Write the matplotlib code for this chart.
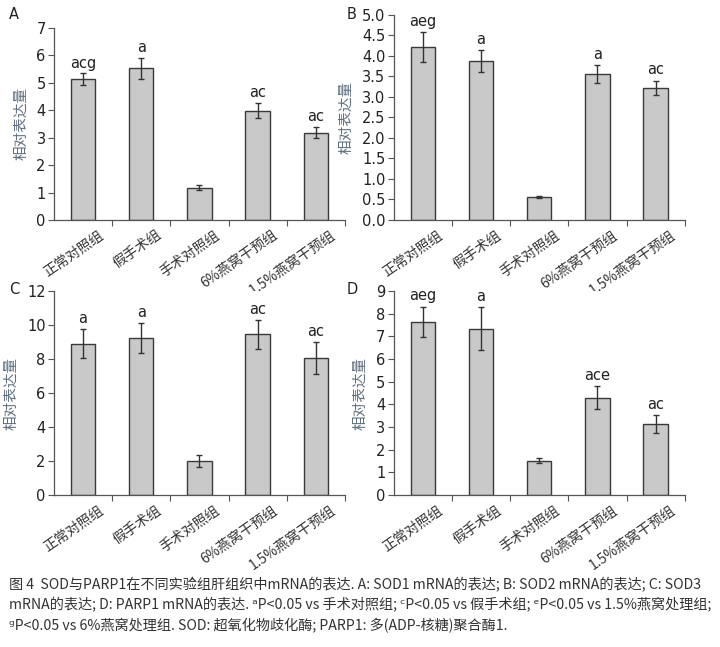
import matplotlib
matplotlib.use("Agg")
import matplotlib.pyplot as plt
import numpy as np

plt.rcParams['font.family'] = ['Noto Sans CJK SC', 'DejaVu Sans']

categories = ["正常对照组", "假手术组", "手术对照组", "6%燕窝干预组", "1.5%燕窝干预组"]

a_vals = [5.12, 5.52, 1.18, 3.98, 3.18]
a_err = [0.22, 0.38, 0.08, 0.27, 0.20]
a_sig = ["acg", "a", "", "ac", "ac"]

b_vals = [4.22, 3.88, 0.56, 3.55, 3.22]
b_err = [0.37, 0.27, 0.02, 0.22, 0.18]
b_sig = ["aeg", "a", "", "a", "ac"]

c_vals = [8.90, 9.25, 2.00, 9.45, 8.05]
c_err = [0.85, 0.90, 0.35, 0.85, 0.95]
c_sig = ["a", "a", "", "ac", "ac"]

d_vals = [7.65, 7.35, 1.52, 4.30, 3.13]
d_err = [0.67, 0.93, 0.10, 0.52, 0.38]
d_sig = ["aeg", "a", "", "ace", "ac"]

ylabel = "相对表达量"
caption = ("图 4  SOD与PARP1在不同实验组肝组织中mRNA的表达. A: SOD1 mRNA的表达; B: SOD2 mRNA的表达; C: SOD3\n"
           "mRNA的表达; D: PARP1 mRNA的表达. ᵃP<0.05 vs 手术对照组; ᶜP<0.05 vs 假手术组; ᵉP<0.05 vs 1.5%燕窝处理组;\n"
           "ᵍP<0.05 vs 6%燕窝处理组. SOD: 超氧化物歧化酶; PARP1: 多(ADP-核糖)聚合酶1.")

fig = plt.figure(figsize=(7.2, 6.47), dpi=100)

panels = [
    ("A", [0.075, 0.660, 0.404, 0.297], a_vals, a_err, a_sig, 7, np.arange(0, 8, 1), "%d", (0.012, 0.977)),
    ("B", [0.547, 0.660, 0.404, 0.317], b_vals, b_err, b_sig, 5, np.arange(0, 5.01, 0.5), "%.1f", (0.481, 0.977)),
    ("C", [0.075, 0.235, 0.404, 0.315], c_vals, c_err, c_sig, 12, np.arange(0, 13, 2), "%d", (0.012, 0.552)),
    ("D", [0.547, 0.235, 0.404, 0.315], d_vals, d_err, d_sig, 9, np.arange(0, 10, 1), "%d", (0.481, 0.552)),
]

edge = "#3a3a3a"
spine_c = "#555555"
for letter, rect, vals, errs, sigs, ymax, yt, fmt, lpos in panels:
    ax = fig.add_axes(rect)
    x = np.arange(len(categories))
    ax.bar(x, vals, width=0.42, color="#c9c9c9", edgecolor=edge, linewidth=1.0, zorder=2)
    ax.errorbar(x, vals, yerr=errs, fmt="none", ecolor="#333333", elinewidth=1.0, capsize=2, capthick=1.0, zorder=3)
    for xi, v, e, s in zip(x, vals, errs, sigs):
        if s:
            ax.text(xi, v + e + ymax * 0.015, s, ha="center", va="bottom", fontsize=10.5,
                    family="DejaVu Sans", color="#222222")
    ax.set_xlim(-0.5, len(categories) - 0.5)
    ax.set_ylim(0, ymax)
    ax.set_yticks(yt)
    ax.set_yticklabels([fmt % t for t in yt], family="DejaVu Sans", fontsize=10.5, color="#222222")
    ax.set_xticks(np.arange(0.5, len(categories), 1))
    ax.set_xticklabels([])
    ax.tick_params(axis="x", direction="out", length=4, color=spine_c, width=0.8)
    ax.tick_params(axis="y", direction="out", length=4, color=spine_c, width=0.8, pad=2)
    for xi, lab in zip(x, categories):
        ax.text(xi + 0.25, -ymax * 0.04, lab, rotation=35, ha="right", va="top",
                rotation_mode="anchor", fontsize=10, color="#333333")
    for s in ["top", "right"]:
        ax.spines[s].set_visible(False)
    for s in ["left", "bottom"]:
        ax.spines[s].set_color(spine_c)
        ax.spines[s].set_linewidth(0.9)
    ax.set_ylabel(ylabel, fontsize=10.5, color="#5f6f80", labelpad=6)
    fig.text(lpos[0], lpos[1], letter, fontsize=10.5, family="DejaVu Sans", color="#222222",
             va="center", ha="left")

fig.text(0.012, 0.108, caption, fontsize=10.2, color="#333333", va="top", linespacing=1.45)

fig.savefig("out.png", dpi=100)
